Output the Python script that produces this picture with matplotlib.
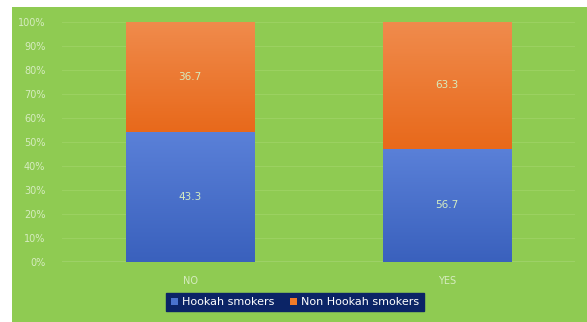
import numpy as np
import matplotlib.pyplot as plt
from matplotlib.patches import Rectangle
from matplotlib.colors import LinearSegmentedColormap

categories = ["NO", "YES"]
hookah = [43.3, 56.7]
non_hookah = [36.7, 63.3]
yticks = [0, 10, 20, 30, 40, 50, 60, 70, 80, 90, 100]

GREEN = "#8fcb52"
BLUE = "#4a72cc"
ORANGE = "#f07a28"
TXT = "#d6ecc0"

hk = np.array(hookah)
nh = np.array(non_hookah)
tot = hk + nh
hk_pct = hk / tot * 100
nh_pct = nh / tot * 100

fig = plt.figure(figsize=(5.87, 3.22), dpi=100, facecolor="white")
fig.patches.append(Rectangle((12 / 587, 0), 1, 1 - 7 / 322, transform=fig.transFigure,
                             facecolor=GREEN, edgecolor="none", zorder=-10))

ax = fig.add_axes([62 / 587, 1 - 262 / 322, 513 / 587, 240 / 322])
ax.set_zorder(1)
ax.set_facecolor("none")
x = np.arange(len(categories))
b1 = ax.bar(x, hk_pct, width=0.5, color=BLUE, zorder=3)
b2 = ax.bar(x, nh_pct, bottom=hk_pct, width=0.5, color=ORANGE, zorder=3)

# soft vertical shading like the original
grads = [(b1, ["#3a61bd", "#5a80d8"]), (b2, ["#e8691b", "#f08b4c"])]
grad = np.linspace(0, 1, 64).reshape(-1, 1)
for bars, cols in grads:
    cmap = LinearSegmentedColormap.from_list("g", cols)
    for p in bars.patches:
        x0, y0 = p.get_x(), p.get_y()
        w, h = p.get_width(), p.get_height()
        im = ax.imshow(grad, cmap=cmap, aspect="auto", origin="lower",
                       extent=(x0, x0 + w, y0, y0 + h), zorder=3.5)
        im.set_clip_path(p)

for i in range(len(categories)):
    ax.text(x[i], hk_pct[i] / 2, f"{hookah[i]}", ha="center", va="center",
            color=TXT, fontsize=7.5, zorder=4)
    ax.text(x[i], hk_pct[i] + nh_pct[i] / 2, f"{non_hookah[i]}", ha="center", va="center",
            color=TXT, fontsize=7.5, zorder=4)

ax.set_xlim(-0.5, 1.5)
ax.set_ylim(0, 100)
ax.set_yticks(yticks)
ax.set_yticklabels([f"{t}%" for t in yticks])
ax.set_xticks(x)
ax.set_xticklabels(categories)
ax.tick_params(axis="both", length=0, colors=TXT, labelsize=7)
ax.tick_params(axis="y", pad=12)
ax.tick_params(axis="x", pad=10)
ax.grid(axis="y", color="#9bd161", linewidth=0.8, zorder=1)
ax.axhline(0, color="#d8eec0", linewidth=1, zorder=2)
for s in ax.spines.values():
    s.set_visible(False)

leg = fig.legend([b1, b2], ["Hookah smokers", "Non Hookah smokers"], loc="center",
                 bbox_to_anchor=(295 / 587, 1 - 302 / 322), ncol=2, fontsize=8,
                 frameon=True, facecolor="#0b2466", edgecolor="#0b2466", framealpha=1,
                 fancybox=False, handlelength=0.6, handleheight=0.6, handletextpad=0.4,
                 columnspacing=1.4, borderpad=0.4)
for t in leg.get_texts():
    t.set_color("white")

fig.savefig("out.png", dpi=100, facecolor="white")
